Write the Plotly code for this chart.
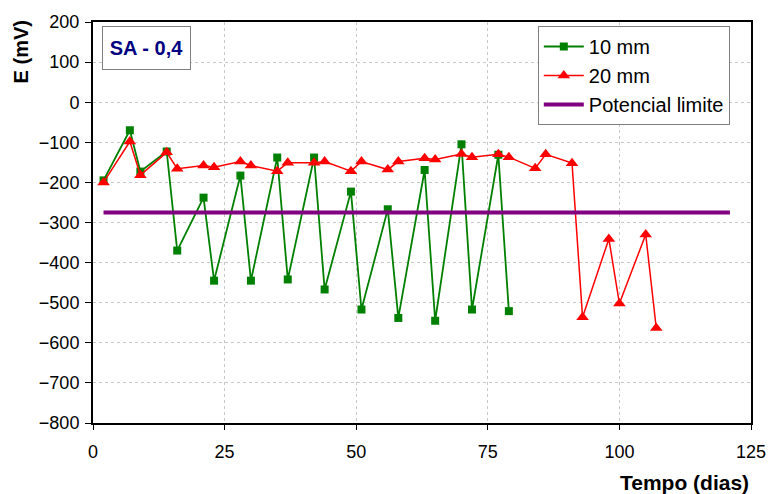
import plotly.graph_objects as go

# 10 mm series
dias_10 = [2, 7, 9, 14, 16, 21, 23, 28, 30, 35, 37, 42, 44, 49, 51, 56, 58, 63, 65, 70, 72, 77, 79]
e_10 = [-195, -70, -173, -123, -370, -238, -445, -183, -445, -138, -442, -138, -467, -223,
        -517, -267, -538, -169, -545, -105, -517, -131, -521]

# 20 mm series
dias_20 = [2, 7, 9, 14, 16, 21, 23, 28, 30, 35, 37, 42, 44, 49, 51, 56, 58, 63, 65, 70, 72,
           77, 79, 84, 86, 91, 93, 98, 100, 105, 107]
e_20 = [-200, -98, -182, -125, -166, -158, -162, -148, -158, -172, -151, -151, -148, -172,
        -148, -168, -148, -140, -143, -129, -137, -130, -137, -165, -130, -152, -536, -341,
        -502, -330, -563]

# potencial limite
dias_lim = [2, 121]
e_lim = [-275, -275]

x_ticks = [0, 25, 50, 75, 100, 125]
y_ticks = list(range(-800, 201, 100))

FONT = "Liberation Sans, Arial, sans-serif"

fig = go.Figure()
fig.add_trace(go.Scatter(
    x=dias_10, y=e_10, name="10 mm", mode="lines+markers",
    line=dict(color="#008000", width=1.8),
    marker=dict(symbol="square", size=8, color="#008000"),
))
fig.add_trace(go.Scatter(
    x=dias_20, y=e_20, name="20 mm", mode="lines+markers",
    line=dict(color="#ff0000", width=1.5),
    marker=dict(symbol="triangle-up", size=11, color="#ff0000"),
))
fig.add_trace(go.Scatter(
    x=dias_lim, y=e_lim, name="Potencial limite", mode="lines",
    line=dict(color="#800080", width=4),
))

fig.update_layout(
    width=778, height=494,
    margin=dict(l=93, r=19, t=18, b=71),
    paper_bgcolor="white", plot_bgcolor="white",
    font=dict(family=FONT, size=18, color="black"),
    showlegend=True,
    legend=dict(
        x=0.676, y=0.99, xanchor="left", yanchor="top",
        bgcolor="white", bordercolor="#808080", borderwidth=1,
        font=dict(size=20), tracegroupgap=0, itemwidth=40,
    ),
    annotations=[
        dict(text="<b>SA - 0,4</b>", xref="paper", yref="paper", x=0.013, y=0.99,
             xanchor="left", yanchor="top", showarrow=False,
             font=dict(size=20, color="#000080"), width=81, height=36,
             bordercolor="#808080", borderwidth=1, borderpad=3, bgcolor="white"),
        dict(text="<b>Tempo (dias)</b>", xref="paper", yref="paper", x=1.0, y=-0.148,
             xanchor="right", yanchor="middle", showarrow=False, font=dict(size=21)),
        dict(text="<b>E (mV)</b>", xref="paper", yref="paper", x=-0.108, y=1.01,
             xanchor="center", yanchor="top", textangle=-90, showarrow=False,
             font=dict(size=20)),
    ],
)
fig.update_xaxes(
    range=[0, 125], tickvals=x_ticks, ticks="outside", ticklen=5, tickcolor="black",
    ticklabelstandoff=6,
    showgrid=True, gridcolor="#c8c8c8", griddash="dot", gridwidth=1,
    showline=True, linecolor="black", linewidth=2, mirror=True, zeroline=False,
)
fig.update_yaxes(
    range=[-800, 200], tickvals=y_ticks, ticks="outside", ticklen=6, tickcolor="black",
    ticklabelstandoff=2,
    showgrid=True, gridcolor="#c8c8c8", griddash="dot", gridwidth=1,
    showline=True, linecolor="black", linewidth=2, mirror=True, zeroline=False,
)

fig.write_html("out.html", config={"displayModeBar": False},
               post_script="document.body.style.margin='0px';")
